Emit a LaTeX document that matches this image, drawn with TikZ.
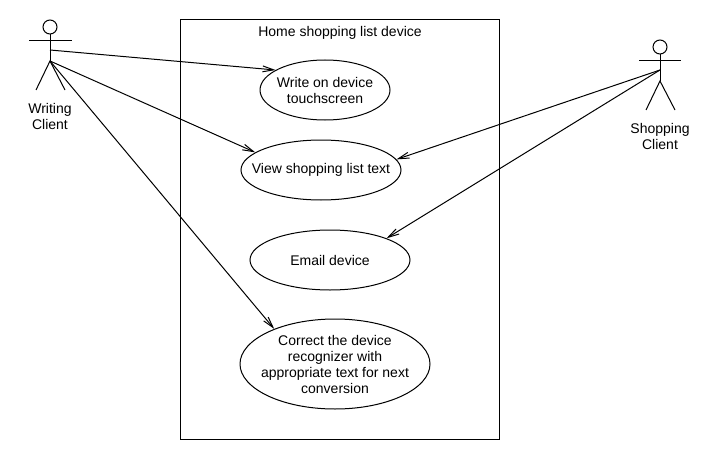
\documentclass[tikz,border=0pt]{standalone}
\usepackage{fontspec}
\setmainfont{Liberation Sans}
\usetikzlibrary{shapes.geometric,arrows.meta}
\tikzset{usecase/.style={draw,ellipse,align=center,inner sep=-40pt,font=\fontsize{14}{16}\selectfont},
  label/.style={align=center,font=\fontsize{14}{16}\selectfont},
  >={Straight Barb[length=11pt,width=14pt,angle'=30]}}

\begin{document}
\begin{tikzpicture}[x=1pt,y=-1pt,line width=1pt]
         \useasboundingbox (0, 0) rectangle (720, 460);
         \node [draw, minimum width=319pt, minimum height=419pt] (device) at (339.5, 229.5) {};
         \node [label] (title) at (340, 33) {Home shopping list device};
         \node [usecase, minimum width=130pt, minimum height=60pt] (write) at (325, 90) {Write on device\\touchscreen};
         \node [usecase, minimum width=160pt, minimum height=60pt] (view) at (321, 170) {View shopping list text};
         \node [usecase, minimum width=160pt, minimum height=60pt] (email) at (330, 260) {Email device};
         \node [usecase, minimum width=190pt, minimum height=90pt] (correct) at (335, 364) {Correct the device\\recognizer with\\appropriate text for next\\conversion};
         % writing client
         \node [draw, circle, minimum size=14pt, inner sep=0pt] (wHead) at (50, 27) {};
         \coordinate (wArmL) at (29, 41);
         \coordinate (wArmR) at (72, 41);
         \coordinate (wChest) at (50, 50);
         \coordinate (wHip) at (50, 61);
         \coordinate (wLegL) at (36, 90);
         \coordinate (wLegR) at (65, 90);
         \draw (wHead) -- (wHip);
         \draw (wArmL) -- (wArmR);
         \draw (wLegL) -- (wHip) -- (wLegR);
         \node [label] (wName) at (50, 116) {Writing\\Client};
         % shopping client
         \node [draw, circle, minimum size=14pt, inner sep=0pt] (sHead) at (660, 47) {};
         \coordinate (sArmL) at (639, 61);
         \coordinate (sArmR) at (681, 61);
         \coordinate (sChest) at (660, 70);
         \coordinate (sHip) at (660, 81);
         \coordinate (sLegL) at (646, 110);
         \coordinate (sLegR) at (675, 110);
         \draw (sHead) -- (sHip);
         \draw (sArmL) -- (sArmR);
         \draw (sLegL) -- (sHip) -- (sLegR);
         \node [label] (sName) at (660, 136) {Shopping\\Client};
         % associations
         \draw [->] (wChest) -- (write.158);
         \draw [->] (wHip) -- (view.165);
         \draw [->] (wHip) -- (correct.150);
         \draw [->] (sChest) -- (view.8);
         \draw [->] (sChest) -- (email.21);
 \end{tikzpicture}
\end{document}
